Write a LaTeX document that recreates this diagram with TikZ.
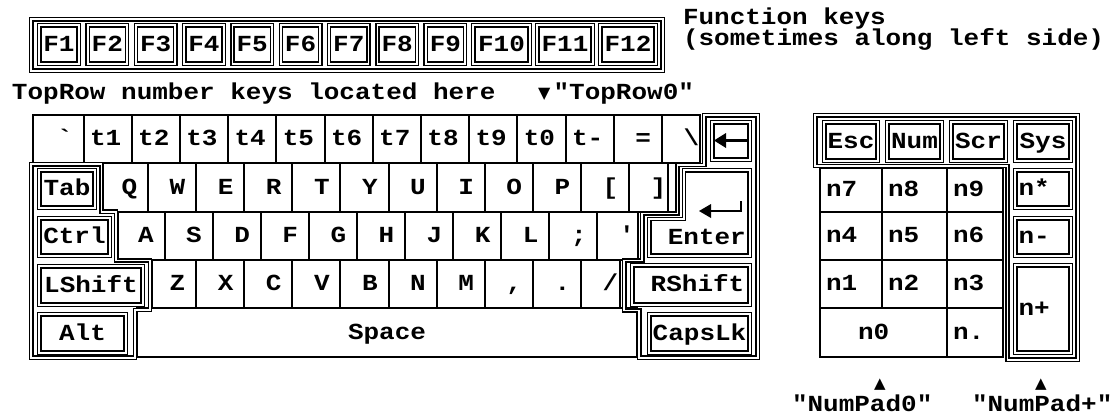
\documentclass[tikz,border=0pt]{standalone}
\usepackage{fontspec}
\setmonofont{Liberation Mono}[FakeStretch=1.13]
\newfontfamily\symf{DejaVu Sans}
\tikzset{
  kf/.style={font=\ttfamily\bfseries\fontsize{23}{23}\selectfont},
  dkey/.style={draw, double, line width=1.4pt, double distance=1.8pt, rectangle, inner sep=0pt, outer sep=0pt, kf, text height=13.1pt, text depth=0pt},
  akey/.style={draw, line width=2pt, rectangle, inner sep=0pt, outer sep=0pt},
  lbl/.style={kf, inner sep=0pt, outer sep=0pt, anchor=base west},
  dbl/.style={draw, double, line width=1.4pt, double distance=1.8pt, line join=miter},
  tri/.style={font=\symf\fontsize{15}{15}\selectfont, inner sep=0pt, anchor=base}
}
\newcommand\dk[6]{\node[dkey, minimum width={#4-#2-4.6}, minimum height={#5-#3-4.6}] (#1) at ({(#2+#4)/2},{(#3+#5)/2}) {#6};}
\newcommand\ak[5]{\node[akey, minimum width={#3-#2}, minimum height={#5-#4}] (#1) at ({(#2+#3)/2},{(#4+#5)/2}) {};}
\newcommand\al[4]{\node[lbl] (#1) at (#2,#3) {#4};}
\begin{document}
\begin{tikzpicture}[x=1pt,y=-1pt]
\fill[white] (0,0) rectangle (1115,416);
\useasboundingbox (0,0) rectangle (1115,416);

% ---------- function keys ----------
\draw[dbl] (31.3,19.3) rectangle (662.7,70.7);
\foreach \i in {1,...,9}{
  \pgfmathsetmacro{\xl}{37+48.3*(\i-1)}
  \dk{f\i}{\xl}{23}{\xl+44}{66}{F\i}
}
\dk{f10}{471}{23}{532}{66}{F10}
\dk{f11}{535}{23}{595}{66}{F11}
\dk{f12}{598}{23}{658}{66}{F12}
\node[lbl, text depth=0pt] (fn1) at (683,24) {Function keys};
\node[lbl, text height=13pt] (fn2) at (683,45) {(sometimes along left side)};

\node[lbl] (toprow) at (12,99) {TopRow number keys located here};
\node[lbl] (toprow0) at (538,99) {\makebox[15.6pt][l]{\symf\fontsize{16}{16}\selectfont\raisebox{1pt}{▼}}"TopRow0"};

% ---------- row 1 ----------
\ak{kgrave}{33}{83.5}{115}{163.3} \al{lgrave}{57}{145.7}{`}
\foreach \lab [count=\i from 0] in {t1,t2,t3,t4,t5,t6,t7,t8,t9,t0,t-}{
  \pgfmathsetmacro{\xl}{83.5+48.2*\i}
  \pgfmathsetmacro{\xr}{\xl+48.2}
  \ak{ka\i}{\xl}{\xr}{115}{163.3}
  \al{la\i}{\xl+6.5}{145.7}{\lab}
}
\ak{kequal}{613.7}{661.9}{115}{163.3} \al{lequal}{635.4}{145.7}{=}
\ak{kbslash}{661.9}{700}{115}{163.3} \al{lbslash}{683.6}{145.7}{\textbackslash}

% ---------- row 2 ----------
\ak{kq}{103}{148}{163.3}{211.7} \al{lq}{121.6}{194}{Q}
\foreach \lab [count=\i from 0] in {W,E,R,T,Y,U,I,O,P}{
  \pgfmathsetmacro{\xl}{148+48.1*\i}
  \pgfmathsetmacro{\xr}{\xl+48.1}
  \ak{kb\i}{\xl}{\xr}{163.3}{211.7}
  \al{lb\i}{\xl+21.7}{194}{\lab}
}
\ak{klbr}{580.9}{629}{163.3}{211.7} \al{llbr}{602.6}{194}{[}
\ak{krbr}{629}{668}{163.3}{211.7} \al{lrbr}{650.7}{194}{]}

% ---------- row 3 ----------
\ak{ka}{118}{164.5}{211.7}{260} \al{lA}{138.1}{242.4}{A}
\foreach \lab [count=\i from 0] in {S,D,F,G,H,J,K,L}{
  \pgfmathsetmacro{\xl}{164.5+48.1*\i}
  \pgfmathsetmacro{\xr}{\xl+48.1}
  \ak{kc\i}{\xl}{\xr}{211.7}{260}
  \al{lc\i}{\xl+21.7}{242.4}{\lab}
}
\ak{ksemi}{549.3}{597.4}{211.7}{260} \al{lsemi}{571}{242.4}{;}
\ak{kquote}{597.4}{638}{211.7}{260} \al{lquote}{619.1}{242.4}{'}

% ---------- row 4 ----------
\ak{kz}{152}{196.1}{260}{308.3} \al{lz}{169.7}{290.7}{Z}
\foreach \lab [count=\i from 0] in {X,C,V,B,N,M}{
  \pgfmathsetmacro{\xl}{196.1+48.1*\i}
  \pgfmathsetmacro{\xr}{\xl+48.1}
  \ak{kd\i}{\xl}{\xr}{260}{308.3}
  \al{ld\i}{\xl+21.7}{290.7}{\lab}
}
\ak{kcomma}{484.7}{532.8}{260}{308.3} \al{lcomma}{506.4}{290.7}{,}
\ak{kdot}{532.8}{580.9}{260}{308.3} \al{ldot}{554.5}{290.7}{.}
\ak{kslash}{580.9}{620}{260}{308.3} \al{lslash}{602.6}{290.7}{/}

% ---------- row 5 ----------
\ak{kspace}{137}{637}{308.3}{357}
\node[kf, inner sep=0pt, anchor=base] (lspace) at (387,339.2) {Space};

% ---------- left modifier block ----------
\draw[dbl] (31.3,164.3) -- (101.5,164.3) -- (101.5,211.7) -- (116,211.7) -- (116,260.5) -- (150,260.5) -- (150,309.8) -- (135,309.8) -- (135,357.7) -- (31.3,357.7) -- cycle;
\dk{tab}{37}{168}{97}{210}{Tab}
\dk{ctrl}{37}{216}{112}{258}{Ctrl}
\dk{lshift}{37}{264}{145}{307}{LShift}
\dk{alt}{37}{312}{128}{355}{Alt}

% ---------- right modifier block ----------
\draw[dbl] (704.3,115.3) -- (757.7,115.3) -- (757.7,357.7) -- (639.3,357.7) -- (639.3,310.5) -- (624.3,310.5) -- (624.3,260.5) -- (642.3,260.5) -- (642.3,213.5) -- (677.5,213.5) -- (677.5,165) -- (704.3,165) -- cycle;
\dk{bksp}{710}{120}{752}{162}{}
\draw[line width=2.4pt] (747,140.5) -- (722,140.5);
\fill (714,140.5) -- (726,133) -- (726,148) -- cycle;
\draw[dbl] (684,170.3) -- (749.7,170.3) -- (749.7,255.7) -- (649.3,255.7) -- (649.3,219) -- (684,219) -- cycle;
\node[kf, inner sep=0pt, anchor=base east] (lenter) at (746,244) {Enter};
\draw[line width=2.4pt] (741,201) -- (741,211) -- (708,211);
\fill (699,211) -- (711,204) -- (711,218) -- cycle;
\dk{rshift}{630}{263}{752}{307}{\rule{13pt}{0pt}RShift}
\dk{caps}{647}{312}{752}{355}{CapsLk}

% ---------- numeric pad ----------
\draw[dbl] (815.3,115.3) -- (1077.7,115.3) -- (1077.7,359.7) -- (1007.5,359.7) -- (1007.5,166) -- (815.3,166) -- cycle;
\dk{esc}{822}{120}{880}{163}{Esc}
\dk{num}{885}{120}{944}{163}{Num}
\dk{scr}{949}{120}{1008}{163}{Scr}
\dk{sys}{1013}{120}{1073}{163}{Sys}
\ak{n7}{820}{882}{168}{212} \al{ln7}{826}{196.5}{n7}
\ak{n8}{882}{947}{168}{212} \al{ln8}{888}{196.5}{n8}
\ak{n9}{947}{1003}{168}{212} \al{ln9}{953}{196.5}{n9}
\ak{n4}{820}{882}{212}{260} \al{ln4}{826}{242.5}{n4}
\ak{n5}{882}{947}{212}{260} \al{ln5}{888}{242.5}{n5}
\ak{n6}{947}{1003}{212}{260} \al{ln6}{953}{242.5}{n6}
\ak{n1}{820}{882}{260}{308} \al{ln1}{826}{290.5}{n1}
\ak{n2}{882}{947}{260}{308} \al{ln2}{888}{290.5}{n2}
\ak{n3}{947}{1003}{260}{308} \al{ln3}{953}{290.5}{n3}
\ak{n0}{820}{947}{308}{357} \al{ln0}{858}{339}{n0}
\ak{ndot}{947}{1003}{308}{357} \al{lndot}{953}{339}{n.}
\dk{nstar}{1013}{168}{1073}{210}{\rule{1.5pt}{0pt}n*\rule{19.3pt}{0pt}}
\dk{nminus}{1013}{216}{1073}{258}{\rule{1.5pt}{0pt}n-\rule{19.3pt}{0pt}}
\dk{nplus}{1013}{263}{1073}{355}{\rule{1.5pt}{0pt}n+\rule{19.3pt}{0pt}}

\node[tri] (tri0) at (880,388) {▲};
\node[tri] (tri1) at (1041,388) {▲};
\node[lbl] (np0) at (792,411) {"NumPad0"};
\node[lbl] (npp) at (972,411) {"NumPad+"};
\end{tikzpicture}
\end{document}
